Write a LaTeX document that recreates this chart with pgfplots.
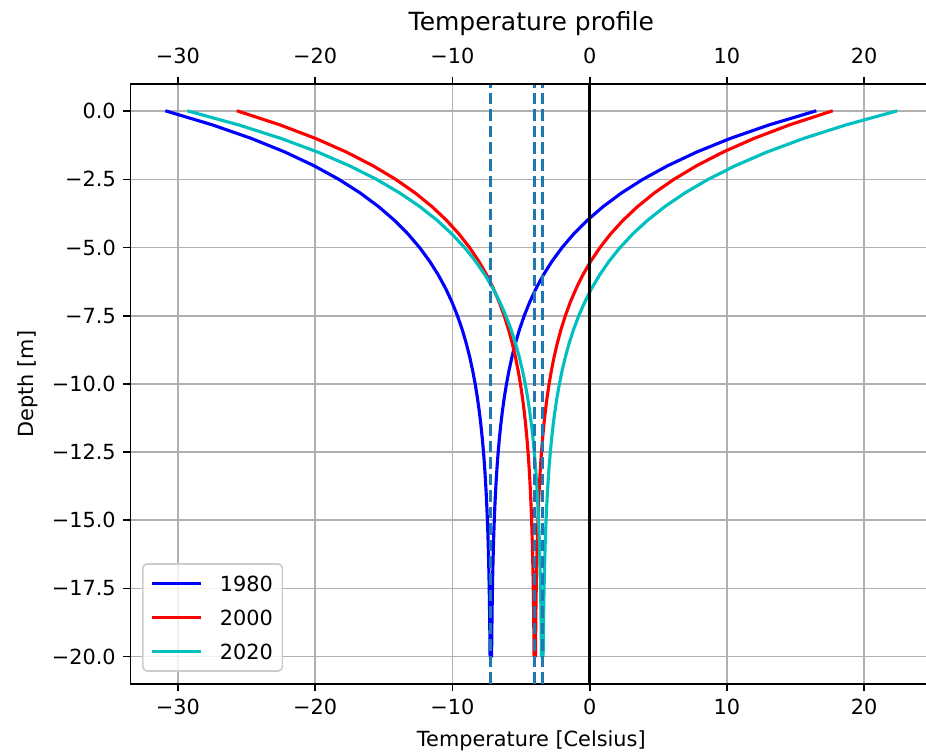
\documentclass[border=0pt]{standalone}
\usepackage{fontspec}
\setmainfont{DejaVu Sans}
\usepackage{pgfplots}
\pgfplotsset{compat=1.18}
\definecolor{tabblue}{HTML}{1F77B4}
\definecolor{mplc}{HTML}{00BFBF}
\definecolor{gridgray}{HTML}{B0B0B0}
\definecolor{legedge}{HTML}{CCCCCC}
\begin{document}
\begin{tikzpicture}
\useasboundingbox (-62.6pt,-34.1pt) rectangle (381.9pt,328.3pt);
\begin{axis}[
  at={(0pt,0pt)}, anchor=south west,
  width=384.9pt, height=288pt, scale only axis,
  xmin=-33.455, xmax=24.955, ymin=-21, ymax=1,
  xtick={-30,-20,-10,0,10,20},
  xticklabels={−30,−20,−10,0,10,20},
  ytick={-20,-17.5,-15,-12.5,-10,-7.5,-5,-2.5,0},
  yticklabels={−20.0,−17.5,−15.0,−12.5,−10.0,−7.5,−5.0,−2.5,0.0},
  xtick pos=left, ytick pos=left,
  tick align=outside, major tick length=3.5pt,
  every tick/.style={black, line width=0.8pt},
  axis line style={black, line width=0.8pt},
  grid=major, major grid style={gridgray, line width=0.8pt},
  tick label style={font=\fontsize{10}{12}\selectfont},
  label style={font=\fontsize{10}{12}\selectfont},
  xlabel={Temperature [Celsius]}, ylabel={Depth [m]},
  xlabel style={yshift=-1pt},
  legend style={
    at={(axis description cs:0,0)}, anchor=south west,
    xshift=5.6pt, yshift=5.8pt,
    draw=legedge, line width=0.8pt, rounded corners=2pt,
    fill=white, fill opacity=0.8, draw opacity=1, text opacity=1,
    inner xsep=4.5pt, inner ysep=5.75pt,
    font=\fontsize{10}{12}\selectfont,
    row sep=9pt, column sep=9pt,
    nodes={inner sep=0pt, text height=7.3pt, text depth=0pt},
  },
  legend cell align=left,
  legend image code/.code={\draw[#1] (0pt,0pt) -- (22pt,0pt);},
]
\addplot[blue, line width=1.5pt, line cap=rect, line join=round] coordinates {
(-30.8,0) (-27.482,-0.5) (-24.630,-1) (-22.180,-1.5) (-20.074,-2) (-18.264,-2.5) (-16.708,-3) (-15.372,-3.5) (-14.223,-4) (-13.235,-4.5) (-12.387,-5) (-11.658,-5.5) (-11.031,-6) (-10.492,-6.5) (-10.030,-7) (-9.632,-7.5) (-9.290,-8) (-8.996,-8.5) (-8.743,-9) (-8.527,-9.5) (-8.340,-10) (-8.180,-10.5) (-8.042,-11) (-7.924,-11.5) (-7.822,-12) (-7.735,-12.5) (-7.659,-13) (-7.595,-13.5) (-7.539,-14) (-7.491,-14.5) (-7.451,-15) (-7.415,-15.5) (-7.385,-16) (-7.359,-16.5) (-7.337,-17) (-7.318,-17.5) (-7.301,-18) (-7.287,-18.5) (-7.275,-19) (-7.264,-19.5) (-7.255,-20)
(-7.145,-20) (-7.136,-19.5) (-7.125,-19) (-7.113,-18.5) (-7.099,-18) (-7.082,-17.5) (-7.063,-17) (-7.041,-16.5) (-7.015,-16) (-6.985,-15.5) (-6.949,-15) (-6.909,-14.5) (-6.861,-14) (-6.805,-13.5) (-6.741,-13) (-6.665,-12.5) (-6.578,-12) (-6.476,-11.5) (-6.358,-11) (-6.220,-10.5) (-6.060,-10) (-5.873,-9.5) (-5.657,-9) (-5.404,-8.5) (-5.110,-8) (-4.768,-7.5) (-4.370,-7) (-3.908,-6.5) (-3.369,-6) (-2.742,-5.5) (-2.013,-5) (-1.165,-4.5) (-0.177,-4) (0.972,-3.5) (2.308,-3) (3.864,-2.5) (5.674,-2) (7.780,-1.5) (10.230,-1) (13.082,-0.5) (16.4,0)
};
\addlegendentry{1980}
\addplot[red, line width=1.5pt, line cap=rect, line join=round] coordinates {
(-25.6,0) (-22.563,-0.5) (-19.953,-1) (-17.710,-1.5) (-15.783,-2) (-14.126,-2.5) (-12.703,-3) (-11.479,-3.5) (-10.428,-4) (-9.524,-4.5) (-8.747,-5) (-8.080,-5.5) (-7.506,-6) (-7.013,-6.5) (-6.590,-7) (-6.226,-7.5) (-5.913,-8) (-5.644,-8.5) (-5.413,-9) (-5.214,-9.5) (-5.043,-10) (-4.897,-10.5) (-4.771,-11) (-4.662,-11.5) (-4.569,-12) (-4.489,-12.5) (-4.420,-13) (-4.361,-13.5) (-4.310,-14) (-4.267,-14.5) (-4.229,-15) (-4.197,-15.5) (-4.169,-16) (-4.146,-16.5) (-4.125,-17) (-4.108,-17.5) (-4.092,-18) (-4.079,-18.5) (-4.068,-19) (-4.059,-19.5) (-4.050,-20)
(-3.950,-20) (-3.941,-19.5) (-3.932,-19) (-3.921,-18.5) (-3.908,-18) (-3.892,-17.5) (-3.875,-17) (-3.854,-16.5) (-3.831,-16) (-3.803,-15.5) (-3.771,-15) (-3.733,-14.5) (-3.690,-14) (-3.639,-13.5) (-3.580,-13) (-3.511,-12.5) (-3.431,-12) (-3.338,-11.5) (-3.229,-11) (-3.103,-10.5) (-2.957,-10) (-2.786,-9.5) (-2.587,-9) (-2.356,-8.5) (-2.087,-8) (-1.774,-7.5) (-1.410,-7) (-0.987,-6.5) (-0.494,-6) (0.080,-5.5) (0.747,-5) (1.524,-4.5) (2.428,-4) (3.479,-3.5) (4.703,-3) (6.126,-2.5) (7.783,-2) (9.710,-1.5) (11.953,-1) (14.563,-0.5) (17.6,0)
};
\addlegendentry{2000}
\addplot[mplc, line width=1.5pt, line cap=rect, line join=round] coordinates {
(-29.2,0) (-25.580,-0.5) (-22.468,-1) (-19.795,-1.5) (-17.497,-2) (-15.522,-2.5) (-13.825,-3) (-12.366,-3.5) (-11.113,-4) (-10.035,-4.5) (-9.110,-5) (-8.314,-5.5) (-7.630,-6) (-7.042,-6.5) (-6.537,-7) (-6.103,-7.5) (-5.730,-8) (-5.410,-8.5) (-5.134,-9) (-4.897,-9.5) (-4.694,-10) (-4.519,-10.5) (-4.369,-11) (-4.239,-11.5) (-4.129,-12) (-4.033,-12.5) (-3.951,-13) (-3.881,-13.5) (-3.820,-14) (-3.768,-14.5) (-3.723,-15) (-3.685,-15.5) (-3.652,-16) (-3.624,-16.5) (-3.599,-17) (-3.578,-17.5) (-3.560,-18) (-3.545,-18.5) (-3.531,-19) (-3.520,-19.5) (-3.510,-20)
(-3.390,-20) (-3.380,-19.5) (-3.369,-19) (-3.355,-18.5) (-3.340,-18) (-3.322,-17.5) (-3.301,-17) (-3.276,-16.5) (-3.248,-16) (-3.215,-15.5) (-3.177,-15) (-3.132,-14.5) (-3.080,-14) (-3.019,-13.5) (-2.949,-13) (-2.867,-12.5) (-2.771,-12) (-2.661,-11.5) (-2.531,-11) (-2.381,-10.5) (-2.206,-10) (-2.003,-9.5) (-1.766,-9) (-1.490,-8.5) (-1.170,-8) (-0.797,-7.5) (-0.363,-7) (0.142,-6.5) (0.730,-6) (1.414,-5.5) (2.210,-5) (3.135,-4.5) (4.213,-4) (5.466,-3.5) (6.925,-3) (8.622,-2.5) (10.597,-2) (12.895,-1.5) (15.568,-1) (18.680,-0.5) (22.3,0)
};
\addlegendentry{2020}
\addplot[tabblue, line width=1.5pt, dash pattern=on 5.55pt off 2.4pt, forget plot] coordinates {(-7.2,-21) (-7.2,1)};
\addplot[tabblue, line width=1.5pt, dash pattern=on 5.55pt off 2.4pt, forget plot] coordinates {(-4.0,-21) (-4.0,1)};
\addplot[tabblue, line width=1.5pt, dash pattern=on 5.55pt off 2.4pt, forget plot] coordinates {(-3.45,-21) (-3.45,1)};
\addplot[black, line width=1.5pt, forget plot] coordinates {(0,-21) (0,1)};
\end{axis}
\begin{axis}[
  at={(0pt,0pt)}, anchor=south west,
  width=384.9pt, height=288pt, scale only axis,
  xmin=-33.455, xmax=24.955, ymin=-21, ymax=1,
  axis x line*=top, axis y line=none,
  xtick={-30,-20,-10,0,10,20},
  xticklabels={−30,−20,−10,0,10,20},
  tick align=outside, major tick length=3.5pt,
  every tick/.style={black, line width=0.8pt},
  axis line style={black, line width=0.8pt},
  x tick label style={font=\fontsize{10}{12}\selectfont, yshift=2.6pt},
  title={Temperature profile},
  title style={font=\fontsize{12}{14.4}\selectfont, at={(axis description cs:0.5,1)}, anchor=base, yshift=19.5pt},
]
\addplot[draw=none, forget plot] coordinates {(0,0)};
\end{axis}
\end{tikzpicture}
\end{document}
